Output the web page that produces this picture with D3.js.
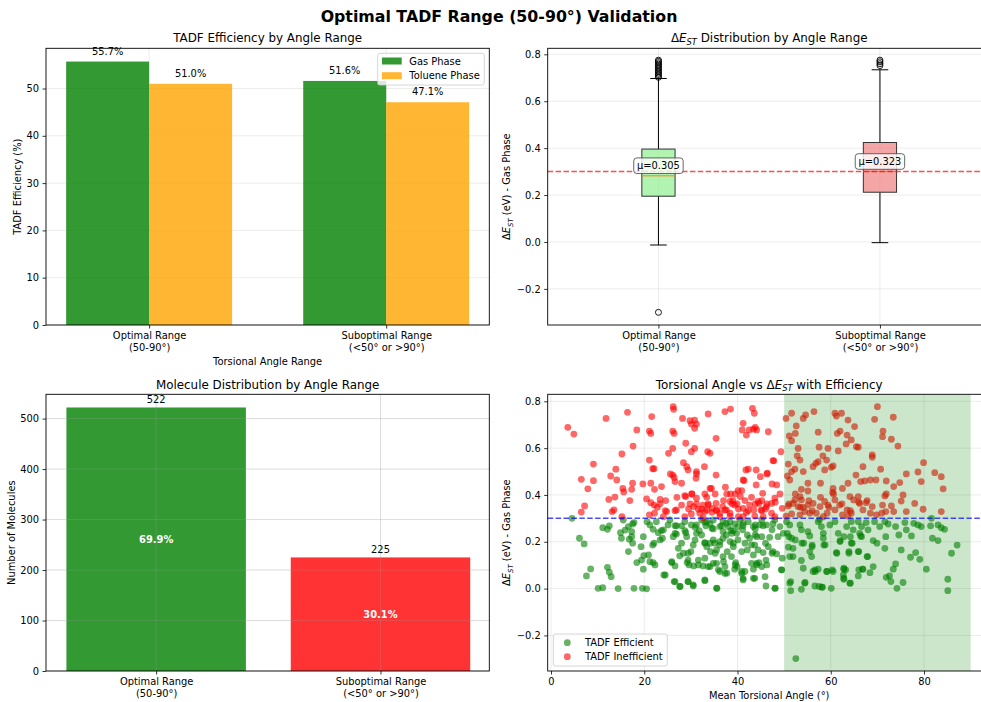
<!DOCTYPE html>
<html>
<head>
<meta charset="utf-8">
<script src="https://d3js.org/d3.v7.min.js"></script>
<style>
  body { margin: 0; background: white; }
  svg { font-family: "DejaVu Sans", sans-serif; }
</style>
</head>
<body>
<div id="chart"></div>
<script>

// ---- data ----
var rangeLabels = [["Optimal Range", "(50-90°)"], ["Suboptimal Range", "(<50° or >90°)"]];
var gasEff = [55.7, 51.6];
var tolEff = [51.0, 47.1];
var molCounts = [522, 225];
var molPct = [69.9, 30.1];

// box plot stats (gas phase dEST, eV)
var boxQ1 = [0.195, 0.212];
var boxMed = [0.282, 0.300];
var boxQ3 = [0.396, 0.424];
var whiskLo = [-0.013, -0.003];
var whiskHi = [0.697, 0.734];
var boxMean = [0.305, 0.323];
var outliersOpt = [0.702, 0.708, 0.714, 0.720, 0.727, 0.733, 0.740, 0.746, 0.752, 0.758, 0.764, 0.770, 0.775, -0.300];
var outliersSub = [0.752, 0.760, 0.768, 0.775];

// scatter: [mean torsional angle, dEST]
var efficientPts = [
 [4.5,0.30],[6.1,0.215],[7.1,0.191],[8.5,0.084],[7.6,0.054],[10.1,0.001],[11.1,0.004],[12.1,0.091],[12.5,0.07],[12.9,0.051],
 [14.4,0.0],[17.8,0.001],[19.6,0.001],[20.5,-0.001],[11.1,0.26],[12.1,0.253],[12.5,0.268],[14.9,0.239],[15.1,0.215],[15.5,0.293],
 [15.9,0.25],[16.6,0.265],[17.5,0.276],[17.8,0.282],[17.3,0.243],[16.8,0.211],[17.5,0.194],[16.6,0.158],[19.3,0.179],[17.3,0.222],
 [19.8,0.222],[18.4,0.111],[19.4,0.122],[19.9,0.141],[19.8,0.083],[20.6,0.286],[21.2,0.272],[21.9,0.253],[22.1,0.194],[21.8,0.186],
 [20.9,0.144],[21.9,0.111],[21.2,0.115],[22.3,0.101],[24.2,0.058],[22.6,0.286],[23.0,0.239],[24.1,0.251],[23.9,0.215],[25.1,0.272],
 [25.9,0.111],[26.6,0.097],[26.4,0.03],[27.6,0.009],[29.4,0.03],[30.5,0.011],[25.5,0.293],[26.9,0.268],[26.6,0.236],[28.0,0.194],
 [27.6,0.14],[29.1,0.222],[28.9,0.239],[28.7,0.286],[30.1,0.272],[30.0,0.158],[29.4,0.151],[29.2,0.111],[29.6,0.101],[30.6,0.097],
 [31.6,0.122],[31.2,0.236],[31.8,0.248],[32.3,0.229],[33.0,0.196],[33.4,0.179],[32.6,0.097],[33.0,0.034],[34.1,0.094],[34.2,0.158],
 [32.3,0.293],[33.4,0.286],[33.2,0.268],[34.1,0.276],[34.5,0.258],[34.8,0.208],[35.1,0.194],[35.5,0.165],[35.5,0.108],[35.9,0.08],
 [36.2,0.073],[35.6,0.001],[37.3,0.094],[37.3,0.065],[36.9,0.137],[37.8,0.158],[36.2,0.265],[36.9,0.243],[37.6,0.229],[38.0,0.265],
 [38.6,0.248],[38.4,0.201],[39.1,0.179],[38.7,0.137],[39.6,0.111],[39.9,0.094],[39.4,0.083],[36.9,0.286],[38.4,0.286],[39.4,0.276],
 [40.1,0.265],[39.8,0.236],[40.5,0.293],[40.9,0.065],[41.2,0.044],[41.6,0.073],[41.1,0.251],[42.1,0.229],[41.6,0.194],[42.6,0.215],
 [43.4,0.265],[43.8,0.272],[44.1,0.222],[43.7,0.186],[43.4,0.144],[43.0,0.108],[43.4,0.083],[43.7,0.044],[44.8,0.272],[45.2,0.222],
 [44.4,0.165],[45.5,0.154],[44.6,0.111],[46.1,0.122],[45.9,0.051],[46.1,0.011],[46.6,0.179],[46.9,0.219],[46.2,0.272],[47.6,0.276],
 [47.4,0.251],[47.6,0.158],[48.4,0.148],[48.0,0.001],[49.4,0.08],[49.6,0.13],[49.1,0.265],[48.7,0.222],[49.8,0.236],[48.0,0.293],
 [45.2,0.293],[42.3,0.286],[41.2,0.279],[37.6,0.279],[34.8,0.293],[31.2,0.272],[28.0,0.268],[26.9,0.233],[30.5,0.186],[34.1,0.194],
 [36.2,0.186],[36.9,0.215],[40.1,0.208],[40.9,0.158],[42.1,0.165],[44.1,0.108],[45.2,0.094],
 [23.7,0.248],[26.6,0.269],[28.7,0.248],[30.9,0.262],[33.0,0.283],[34.8,0.255],[36.6,0.269],[39.1,0.248],[41.2,0.269],[43.8,0.255],
 [45.5,0.269],[23.4,0.208],[26.2,0.222],[27.3,0.172],[28.4,0.151],[29.4,0.122],[25.9,0.115],[24.5,0.058],[26.6,0.03],[27.7,0.009],
 [29.4,0.03],[30.5,0.016],[33.0,0.037],[35.5,0.002],[31.6,0.101],[33.7,0.094],[34.8,0.108],[37.0,0.115],[37.7,0.066],[39.5,0.101],
 [40.9,0.073],[41.2,0.037],[43.4,0.044],[44.1,0.101],[43.0,0.187],[39.1,0.194],[36.2,0.201],[33.0,0.194],[30.9,0.208],[38.8,0.236],
 [43.8,0.229],[35.2,0.151],[33.0,0.13],[46.0,0.194],[47.4,0.151],[46.3,0.101],[48.1,0.002],[49.5,0.08],
 [50.5,0.286],[51.2,0.272],[50.7,0.236],[51.6,0.215],[50.9,0.177],[51.9,0.172],[51.2,0.137],[51.9,0.137],[51.4,0.03],[51.2,0.023],
 [51.4,-0.009],[52.5,-0.299],[53.7,-0.003],[54.4,0.023],[54.1,0.087],[53.7,0.12],[54.2,0.194],[53.7,0.251],[53.4,0.272],[55.1,0.243],
 [55.5,0.225],[56.0,0.186],[55.5,0.158],[55.9,0.137],[56.6,0.08],[56.2,0.073],[57.3,0.083],[56.6,0.011],[57.5,0.009],[58.2,0.006],
 [57.3,0.286],[58.0,0.265],[57.6,0.295],[58.4,0.236],[58.4,0.215],[58.5,0.186],[59.1,0.073],[60.5,0.073],[60.1,0.001],[61.2,0.154],
 [59.8,0.272],[60.9,0.286],[61.6,0.236],[62.0,0.205],[62.8,0.222],[62.8,0.083],[62.7,0.058],[62.8,0.04],[63.2,0.08],[64.1,0.023],
 [63.9,0.158],[64.4,0.194],[64.2,0.222],[64.8,0.251],[64.4,0.286],[63.4,0.265],[65.9,0.286],[66.6,0.265],[66.2,0.236],[66.6,0.222],
 [65.9,0.158],[66.4,0.225],[66.8,0.083],[65.9,0.054],[66.9,0.083],[68.4,0.068],[67.9,0.137],[67.6,0.282],[68.0,0.251],[69.1,0.094],
 [69.1,0.205],[69.9,0.194],[69.4,0.286],[70.5,0.265],[71.6,0.172],[71.8,0.222],[71.6,0.286],[72.3,0.276],[71.9,0.048],[72.6,0.054],
 [72.9,0.03],[73.4,0.083],[73.9,0.105],[74.2,0.001],[75.5,0.026],[75.1,0.165],[74.6,0.229],[73.9,0.265],[75.9,0.282],[77.1,0.134],
 [78.2,0.154],[77.8,0.279],[78.7,0.272],[79.1,0.125],[79.4,0.265],[80.5,0.083],[81.6,0.30],[81.8,0.215],[81.4,0.268],[83.0,0.205],
 [83.0,0.272],[83.7,0.26],[84.4,0.253],[85.1,0.04],[85.1,-0.009],[85.9,0.151],[87.1,0.186],[76.2,0.251],[77.3,0.225],
 [54.5,0.026],[58.1,0.006],[56.7,0.073],[59.2,0.073],[60.3,0.08],[62.8,0.087],[62.8,0.044],[64.2,0.023],[66.0,0.08],[67.8,0.137],
 [66.0,0.158],[63.9,0.151],[61.3,0.151],[58.8,0.187],[56.0,0.179],[53.8,0.194],[52.4,0.208],[51.0,0.222],[64.6,0.194],[62.0,0.201]
];
var inefficientPts = [
 [3.6,0.689],[4.9,0.66],[11.8,0.727],[16.4,0.753],[18.4,0.678],[17.6,0.609],[15.2,0.575],[9.1,0.532],[6.5,0.467],[9.1,0.461],
 [7.9,0.426],[7.2,0.353],[6.5,0.327],[13.9,0.51],[12.8,0.481],[14.1,0.464],[12.4,0.381],[13.7,0.391],[15.4,0.428],[15.6,0.413],
 [17.5,0.45],[17.3,0.424],[16.9,0.376],[13.5,0.336],[13.1,0.329],[15.2,0.307],[21.6,0.735],[21.1,0.673],[21.4,0.663],[21.8,0.512],
 [22.1,0.512],[21.1,0.549],[21.4,0.45],[22.2,0.424],[19.7,0.447],[20.5,0.383],[21.4,0.367],[22.1,0.357],[22.8,0.347],[23.4,0.381],
 [23.7,0.436],[24.6,0.376],[21.1,0.315],[22.2,0.322],[24.8,0.329],[24.1,0.307],[26.2,0.777],[26.3,0.766],[26.1,0.673],[26.4,0.663],
 [28.2,0.727],[26.1,0.599],[25.2,0.578],[28.9,0.621],[29.8,0.717],[30.8,0.72],[30.1,0.703],[31.2,0.703],[30.8,0.685],[30.1,0.585],
 [30.8,0.599],[33.7,0.746],[33.6,0.585],[34.1,0.578],[35.4,0.642],[37.3,0.756],[38.5,0.767],[41.2,0.706],[41.0,0.678],[41.9,0.656],
 [42.5,0.678],[43.2,0.77],[43.6,0.749],[43.8,0.689],[44.1,0.678],[43.4,0.681],[46.6,0.67],[26.1,0.485],[26.4,0.475],[25.6,0.49],
 [26.6,0.457],[28.0,0.45],[28.4,0.538],[29.1,0.521],[29.4,0.507],[31.2,0.5],[31.1,0.471],[31.2,0.49],[32.9,0.521],[35.4,0.485],
 [28.9,0.393],[30.2,0.404],[31.2,0.386],[33.4,0.39],[34.1,0.428],[34.4,0.428],[37.4,0.433],[38.5,0.404],[40.1,0.418],[40.6,0.393],
 [39.0,0.376],[39.9,0.362],[38.4,0.372],[29.8,0.362],[30.6,0.35],[31.6,0.339],[31.9,0.322],[32.6,0.357],[33.7,0.357],[34.6,0.343],
 [35.5,0.336],[36.2,0.322],[35.4,0.364],[36.8,0.35],[37.6,0.336],[38.4,0.322],[39.4,0.357],[41.2,0.343],[41.9,0.325],[42.6,0.357],
 [43.5,0.336],[44.4,0.372],[44.6,0.364],[45.1,0.336],[46.2,0.35],[47.3,0.364],[48.0,0.386],[49.1,0.404],[48.4,0.443],[47.6,0.547],
 [49.3,0.585],[46.4,0.493],[44.9,0.478],[44.0,0.507],[41.8,0.507],[42.3,0.51],[41.2,0.464],[41.4,0.461],[44.0,0.443],[45.4,0.407],
 [47.3,0.322],[48.0,0.307],[32.6,0.303],[28.7,0.307],[30.1,0.319],[33.0,0.329],[28.0,0.357],[26.9,0.336],[40.2,0.307],[41.2,0.307],
 [45.5,0.307],[43.7,0.31],[38.4,0.31],[36.2,0.307],[37.3,0.336],[33.4,0.336],
 [23.4,0.362],[24.5,0.333],[27.0,0.39],[28.7,0.397],[30.2,0.404],[31.2,0.362],[33.0,0.404],[33.7,0.362],[35.2,0.404],[35.5,0.333],
 [37.0,0.376],[37.7,0.404],[38.8,0.362],[39.5,0.404],[40.9,0.418],[41.6,0.376],[43.0,0.39],[43.8,0.362],[45.2,0.376],[26.6,0.333],
 [29.5,0.34],[32.3,0.34],[34.5,0.326],[40.2,0.34],[42.3,0.333],[45.2,0.333],[47.8,0.546],[46.3,0.49],[47.4,0.447],[48.1,0.369],
 [46.3,0.362],[46.0,0.34],
 [50.4,0.727],[51.6,0.749],[52.6,0.695],[52.4,0.663],[51.1,0.652],[51.6,0.632],[53.0,0.599],[52.8,0.567],[54.1,0.727],[54.6,0.742],
 [56.4,0.756],[57.3,0.668],[57.5,0.604],[50.9,0.532],[51.6,0.5],[52.3,0.51],[50.7,0.481],[51.2,0.464],[54.1,0.5],[53.4,0.549],
 [56.2,0.521],[56.8,0.535],[57.3,0.542],[58.3,0.567],[59.4,0.599],[59.1,0.549],[58.7,0.507],[60.1,0.518],[60.5,0.524],[60.9,0.749],
 [61.2,0.737],[62.3,0.749],[63.7,0.72],[61.4,0.663],[62.0,0.673],[63.5,0.656],[64.4,0.635],[65.1,0.692],[65.5,0.606],[61.6,0.588],
 [63.3,0.618],[65.9,0.604],[66.9,0.521],[65.4,0.485],[63.7,0.45],[66.4,0.457],[67.3,0.46],[68.5,0.464],[68.9,0.571],[68.9,0.561],
 [70.0,0.777],[69.4,0.723],[71.2,0.673],[71.1,0.649],[73.4,0.732],[73.0,0.638],[74.4,0.609],[70.7,0.51],[69.7,0.464],[71.9,0.46],
 [73.5,0.436],[74.8,0.453],[76.2,0.49],[75.5,0.4],[75.1,0.374],[71.9,0.404],[71.6,0.396],[73.0,0.353],[71.1,0.357],[68.9,0.35],
 [67.6,0.367],[66.2,0.364],[65.9,0.393],[64.9,0.379],[64.1,0.393],[62.5,0.428],[60.5,0.428],[60.4,0.411],[60.9,0.379],[61.9,0.357],
 [58.7,0.372],[59.4,0.357],[57.7,0.35],[57.8,0.45],[55.1,0.45],[55.1,0.417],[53.7,0.424],[53.4,0.393],[53.7,0.379],[52.3,0.379],
 [51.9,0.364],[50.9,0.353],[53.0,0.35],[54.1,0.347],[55.1,0.357],[56.2,0.364],[78.0,0.364],[78.7,0.498],[79.4,0.457],[79.9,0.538],
 [79.8,0.339],[82.3,0.495],[83.7,0.478],[84.1,0.426],[83.7,0.329],[73.5,0.329],[69.8,0.315],[70.9,0.322],[71.8,0.329],[64.4,0.322],
 [63.5,0.336],[63.7,0.31],[62.5,0.315],[58.4,0.307],[59.2,0.322],[55.5,0.322],[54.4,0.329],[53.4,0.315],[51.6,0.319],[50.4,0.31],
 [49.6,0.343],[56.9,0.322],[60.9,0.336],[66.9,0.336],[68.5,0.322],[76.2,0.329],
 [51.0,0.362],[52.4,0.404],[53.5,0.347],[55.3,0.376],[56.0,0.333],[57.8,0.39],[59.6,0.347],[60.6,0.404],[62.4,0.362],[64.2,0.333],
 [66.0,0.369],[67.8,0.376]
];

// ---- layout ----
const W = 981, H = 702;
const fs = 9.9, fsTitle = 11.9;
const colL = [46, 489.3], colR = [547.7, 990.7];
const rowT = [48.3, 325], rowB = [394.3, 671];
const gridColor = "#b0b0b0";

const svg = d3.select("#chart").append("svg")
    .attr("width", W).attr("height", H)
    .style("background", "white");

svg.append("text")
    .attr("x", 499).attr("y", 21.5)
    .attr("text-anchor", "middle")
    .style("font-size", "15.8px").style("font-weight", "bold")
    .text("Optimal TADF Range (50-90°) Validation");

// draws light grid lines for a panel
function drawGrid(g, x, y, xTicks, yTicks) {
    g.append("g").selectAll("line").data(yTicks).join("line")
        .attr("x1", x.range()[0]).attr("x2", x.range()[1])
        .attr("y1", d => y(d)).attr("y2", d => y(d))
        .attr("stroke", gridColor).attr("stroke-opacity", 0.3).attr("stroke-width", 0.8);
    g.append("g").selectAll("line").data(xTicks).join("line")
        .attr("y1", y.range()[0]).attr("y2", y.range()[1])
        .attr("x1", d => x(d)).attr("x2", d => x(d))
        .attr("stroke", gridColor).attr("stroke-opacity", 0.3).attr("stroke-width", 0.8);
}

// ticks, tick labels and spines
function drawAxes(g, x, y, xTicks, yTicks, xFmt, yFmt) {
    var ax = g.append("g")
        .attr("transform", "translate(0," + y.range()[0] + ")")
        .call(d3.axisBottom(x).tickValues(xTicks).tickFormat(xFmt).tickSizeOuter(0).tickSize(3.5).tickPadding(3.5));
    var ay = g.append("g")
        .attr("transform", "translate(" + x.range()[0] + ",0)")
        .call(d3.axisLeft(y).tickValues(yTicks).tickFormat(yFmt).tickSizeOuter(0).tickSize(3.5).tickPadding(3.5));
    [ax, ay].forEach(function(a) {
        a.select(".domain").remove();
        a.selectAll(".tick text").style("font-size", fs + "px").attr("fill", "#000").style("font-family", "DejaVu Sans");
        a.selectAll(".tick line").attr("stroke", "#000").attr("stroke-width", 0.8);
    });
    g.append("rect")
        .attr("x", x.range()[0]).attr("y", y.range()[1])
        .attr("width", x.range()[1] - x.range()[0])
        .attr("height", y.range()[0] - y.range()[1])
        .attr("fill", "none").attr("stroke", "#000").attr("stroke-width", 0.9);
    return ax;
}

// category tick labels on two lines
function twoLineTicks(ax, offset) {
    ax.selectAll(".tick text").each(function(d) {
        var t = d3.select(this);
        t.text(null);
        rangeLabels[d - offset].forEach(function(s, k) {
            t.append("tspan").attr("x", 0).attr("dy", k === 0 ? "0.71em" : "1.16em").text(s);
        });
    });
}

function title(cx, y, txt) {
    return svg.append("text").attr("x", cx).attr("y", y)
        .attr("text-anchor", "middle").style("font-size", fsTitle + "px").text(txt);
}

// ΔE_ST in math style
function deltaEst(t, before, after) {
    if (before) t.append("tspan").text(before);
    t.append("tspan").text("Δ");
    t.append("tspan").style("font-style", "italic").text("E");
    t.append("tspan").style("font-style", "italic").style("font-size", "70%").attr("dy", 2.5).text("ST");
    t.append("tspan").attr("dy", -2.5).text(after);
}

function yLabel(cx, cy, size) {
    return svg.append("text")
        .attr("transform", "translate(" + cx + "," + cy + ") rotate(-90)")
        .attr("text-anchor", "middle").attr("dy", "0.35em")
        .style("font-size", size + "px");
}

// ================= Panel 1: TADF efficiency =================
const barW = 0.35;
var x1 = d3.scaleLinear().domain([-0.435, 1.435]).range(colL);
var y1 = d3.scaleLinear().domain([0, 58.5]).range([rowT[1], rowT[0]]);
var p1 = svg.append("g");
drawGrid(p1, x1, y1, [0, 1], d3.range(0, 60, 10));

p1.selectAll(".gas").data(gasEff).join("rect")
    .attr("x", (d, i) => x1(i - barW)).attr("width", x1(barW) - x1(0))
    .attr("y", d => y1(d)).attr("height", d => y1(0) - y1(d))
    .attr("fill", "green").attr("fill-opacity", 0.8);
p1.selectAll(".tol").data(tolEff).join("rect")
    .attr("x", (d, i) => x1(i)).attr("width", x1(barW) - x1(0))
    .attr("y", d => y1(d)).attr("height", d => y1(0) - y1(d))
    .attr("fill", "orange").attr("fill-opacity", 0.8);

p1.selectAll(".gl").data(gasEff).join("text")
    .attr("x", (d, i) => x1(i - barW / 2)).attr("y", d => y1(d + 1) - 2.3)
    .attr("text-anchor", "middle").style("font-size", fs + "px")
    .text(d => d.toFixed(1) + "%");
p1.selectAll(".tl").data(tolEff).join("text")
    .attr("x", (d, i) => x1(i + barW / 2)).attr("y", d => y1(d + 1) - 2.3)
    .attr("text-anchor", "middle").style("font-size", fs + "px")
    .text(d => d.toFixed(1) + "%");

var ax1 = drawAxes(p1, x1, y1, [0, 1], d3.range(0, 60, 10), d => d, d3.format("d"));
twoLineTicks(ax1, 0);
title((colL[0] + colL[1]) / 2, 42, "TADF Efficiency by Angle Range");
svg.append("text").attr("x", (colL[0] + colL[1]) / 2).attr("y", 364.5)
    .attr("text-anchor", "middle").style("font-size", fs + "px").text("Torsional Angle Range");
yLabel(17.3, (rowT[0] + rowT[1]) / 2, fs).text("TADF Efficiency (%)");

// legend
var lg1 = svg.append("g");
lg1.append("rect").attr("x", 377.7).attr("y", 53.3).attr("width", 106.6).attr("height", 31.7)
    .attr("rx", 2).attr("fill", "white").attr("fill-opacity", 0.8).attr("stroke", "#cccccc").attr("stroke-width", 0.8);
[["Gas Phase", "green"], ["Toluene Phase", "orange"]].forEach(function(e, k) {
    var cy = 61 + k * 14.7;
    lg1.append("rect").attr("x", 382).attr("y", cy - 3.5).attr("width", 19.7).attr("height", 7)
        .attr("fill", e[1]).attr("fill-opacity", 0.8);
    lg1.append("text").attr("x", 409.3).attr("y", cy + 3.5).style("font-size", fs + "px").text(e[0]);
});

// ================= Panel 2: box plot =================
var x2 = d3.scaleLinear().domain([0.5, 2.5]).range(colR);
var y2 = d3.scaleLinear().domain([-0.354, 0.8256]).range([rowT[1], rowT[0]]);
var p2 = svg.append("g");
var y2Ticks = [-0.2, 0, 0.2, 0.4, 0.6, 0.8];
drawGrid(p2, x2, y2, [1, 2], y2Ticks);

var boxFill = ["lightgreen", "lightcoral"];
var boxW = 0.15;
[0, 1].forEach(function(i) {
    var c = i + 1;
    // whiskers
    p2.append("line").attr("x1", x2(c)).attr("x2", x2(c)).attr("y1", y2(boxQ1[i])).attr("y2", y2(whiskLo[i]))
        .attr("stroke", "#000").attr("stroke-width", 1);
    p2.append("line").attr("x1", x2(c)).attr("x2", x2(c)).attr("y1", y2(boxQ3[i])).attr("y2", y2(whiskHi[i]))
        .attr("stroke", "#000").attr("stroke-width", 1);
    [whiskLo[i], whiskHi[i]].forEach(function(v) {
        p2.append("line").attr("x1", x2(c - boxW / 4)).attr("x2", x2(c + boxW / 4))
            .attr("y1", y2(v)).attr("y2", y2(v)).attr("stroke", "#000").attr("stroke-width", 1);
    });
    p2.append("rect")
        .attr("x", x2(c - boxW / 2)).attr("width", x2(c + boxW / 2) - x2(c - boxW / 2))
        .attr("y", y2(boxQ3[i])).attr("height", y2(boxQ1[i]) - y2(boxQ3[i]))
        .attr("fill", boxFill[i]).attr("fill-opacity", 0.7)
        .attr("stroke", "#333").attr("stroke-width", 1);
    p2.append("line").attr("x1", x2(c - boxW / 2)).attr("x2", x2(c + boxW / 2))
        .attr("y1", y2(boxMed[i])).attr("y2", y2(boxMed[i]))
        .attr("stroke", "#ff7f0e").attr("stroke-width", 1);
    var outs = i === 0 ? outliersOpt : outliersSub;
    p2.append("g").selectAll("circle").data(outs).join("circle")
        .attr("cx", x2(c)).attr("cy", d => y2(d)).attr("r", 3)
        .attr("fill", "none").attr("stroke", "#000").attr("stroke-width", 0.9);
});

p2.append("line").attr("x1", colR[0]).attr("x2", colR[1])
    .attr("y1", y2(0.3)).attr("y2", y2(0.3))
    .attr("stroke", "red").attr("stroke-opacity", 0.7).attr("stroke-width", 1.5)
    .attr("stroke-dasharray", "5.5,2.4");

// mean labels
[0, 1].forEach(function(i) {
    var g = p2.append("g");
    var t = g.append("text").attr("x", x2(i + 1)).attr("y", y2(boxMean[i] + 0.02) + 3.5)
        .attr("text-anchor", "middle").style("font-size", fs + "px")
        .text("μ=" + boxMean[i].toFixed(3));
    var bb = t.node().getBBox();
    g.insert("rect", "text")
        .attr("x", bb.x - 3.3).attr("y", y2(boxMean[i] + 0.02) - 7.8)
        .attr("width", bb.width + 6.6).attr("height", 15.6).attr("rx", 3)
        .attr("fill", "white").attr("fill-opacity", 0.8)
        .attr("stroke", "#555").attr("stroke-width", 0.9);
});

var ax2 = drawAxes(p2, x2, y2, [1, 2], y2Ticks, d => d, d3.format(".1f"));
twoLineTicks(ax2, 1);
deltaEst(title((colR[0] + colR[1]) / 2, 42, ""), "", " Distribution by Angle Range");
deltaEst(yLabel(506.7, (rowT[0] + rowT[1]) / 2, fs), "", " (eV) - Gas Phase");

// ================= Panel 3: molecule distribution =================
var x3 = d3.scaleLinear().domain([-0.491, 1.485]).range(colL);
var y3 = d3.scaleLinear().domain([0, 548.1]).range([rowB[1], rowB[0]]);
var p3 = svg.append("g");
drawGrid(p3, x3, y3, [0, 1], d3.range(0, 600, 100));
var molColor = ["green", "red"];
p3.selectAll(".mb").data(molCounts).join("rect")
    .attr("x", (d, i) => x3(i - 0.4)).attr("width", x3(0.8) - x3(0))
    .attr("y", d => y3(d)).attr("height", d => y3(0) - y3(d))
    .attr("fill", (d, i) => molColor[i]).attr("fill-opacity", 0.8);
// grid shows through the bars
p3.append("g").selectAll("line").data([0, 1]).join("line")
    .attr("x1", d => x3(d)).attr("x2", d => x3(d)).attr("y1", rowB[0]).attr("y2", rowB[1])
    .attr("stroke", gridColor).attr("stroke-opacity", 0.3).attr("stroke-width", 0.8);
p3.append("g").selectAll("line").data(d3.range(100, 600, 100)).join("line")
    .attr("x1", colL[0]).attr("x2", colL[1]).attr("y1", d => y3(d)).attr("y2", d => y3(d))
    .attr("stroke", gridColor).attr("stroke-opacity", 0.3).attr("stroke-width", 0.8);
p3.selectAll(".ml").data(molCounts).join("text")
    .attr("x", (d, i) => x3(i)).attr("y", d => y3(d + 5) - 2.3)
    .attr("text-anchor", "middle").style("font-size", fs + "px").text(d => d);
p3.selectAll(".mp").data(molCounts).join("text")
    .attr("x", (d, i) => x3(i)).attr("y", d => y3(d / 2) + 3.5)
    .attr("text-anchor", "middle").style("font-size", fs + "px")
    .style("font-weight", "bold").attr("fill", "white")
    .text((d, i) => molPct[i].toFixed(1) + "%");
var ax3 = drawAxes(p3, x3, y3, [0, 1], d3.range(0, 600, 100), d => d, d3.format("d"));
twoLineTicks(ax3, 0);
title((colL[0] + colL[1]) / 2, 388.5, "Molecule Distribution by Angle Range");
yLabel(11.7, (rowB[0] + rowB[1]) / 2, fs).text("Number of Molecules");

// ================= Panel 4: scatter =================
var x4 = d3.scaleLinear().domain([-0.71, 94.3]).range(colR);
var y4 = d3.scaleLinear().domain([-0.352, 0.83]).range([rowB[1], rowB[0]]);
var p4 = svg.append("g");
var x4Ticks = [0, 20, 40, 60, 80];
drawGrid(p4, x4, y4, x4Ticks, y2Ticks);

p4.append("g").selectAll("circle").data(efficientPts).join("circle")
    .attr("cx", d => x4(d[0])).attr("cy", d => y4(d[1])).attr("r", 3.4)
    .attr("fill", "green").attr("fill-opacity", 0.6);
p4.append("g").selectAll("circle").data(inefficientPts).join("circle")
    .attr("cx", d => x4(d[0])).attr("cy", d => y4(d[1])).attr("r", 3.4)
    .attr("fill", "red").attr("fill-opacity", 0.6);

p4.append("rect").attr("x", x4(50)).attr("width", x4(90) - x4(50))
    .attr("y", rowB[0]).attr("height", rowB[1] - rowB[0])
    .attr("fill", "green").attr("fill-opacity", 0.2);

p4.append("line").attr("x1", colR[0]).attr("x2", colR[1])
    .attr("y1", y4(0.3)).attr("y2", y4(0.3))
    .attr("stroke", "blue").attr("stroke-opacity", 0.7).attr("stroke-width", 1.5)
    .attr("stroke-dasharray", "5.5,2.4");

drawAxes(p4, x4, y4, x4Ticks, y2Ticks, d3.format("d"), d3.format(".1f"));
deltaEst(title((colR[0] + colR[1]) / 2, 388.5, ""), "Torsional Angle vs ", " with Efficiency");
deltaEst(yLabel(506.7, (rowB[0] + rowB[1]) / 2, fs), "", " (eV) - Gas Phase");
svg.append("text").attr("x", (colR[0] + colR[1]) / 2).attr("y", 698.5)
    .attr("text-anchor", "middle").style("font-size", fs + "px").text("Mean Torsional Angle (°)");

var lg4 = svg.append("g");
lg4.append("rect").attr("x", 553.3).attr("y", 634).attr("width", 114).attr("height", 32)
    .attr("rx", 2).attr("fill", "white").attr("fill-opacity", 0.8).attr("stroke", "#cccccc").attr("stroke-width", 0.8);
[["TADF Efficient", "green"], ["TADF Inefficient", "red"]].forEach(function(e, k) {
    var cy = 642.7 + k * 14;
    lg4.append("circle").attr("cx", 567.3).attr("cy", cy).attr("r", 3.4)
        .attr("fill", e[1]).attr("fill-opacity", 0.6);
    lg4.append("text").attr("x", 585).attr("y", cy + 3.5).style("font-size", fs + "px").text(e[0]);
});

</script>
</body>
</html>
